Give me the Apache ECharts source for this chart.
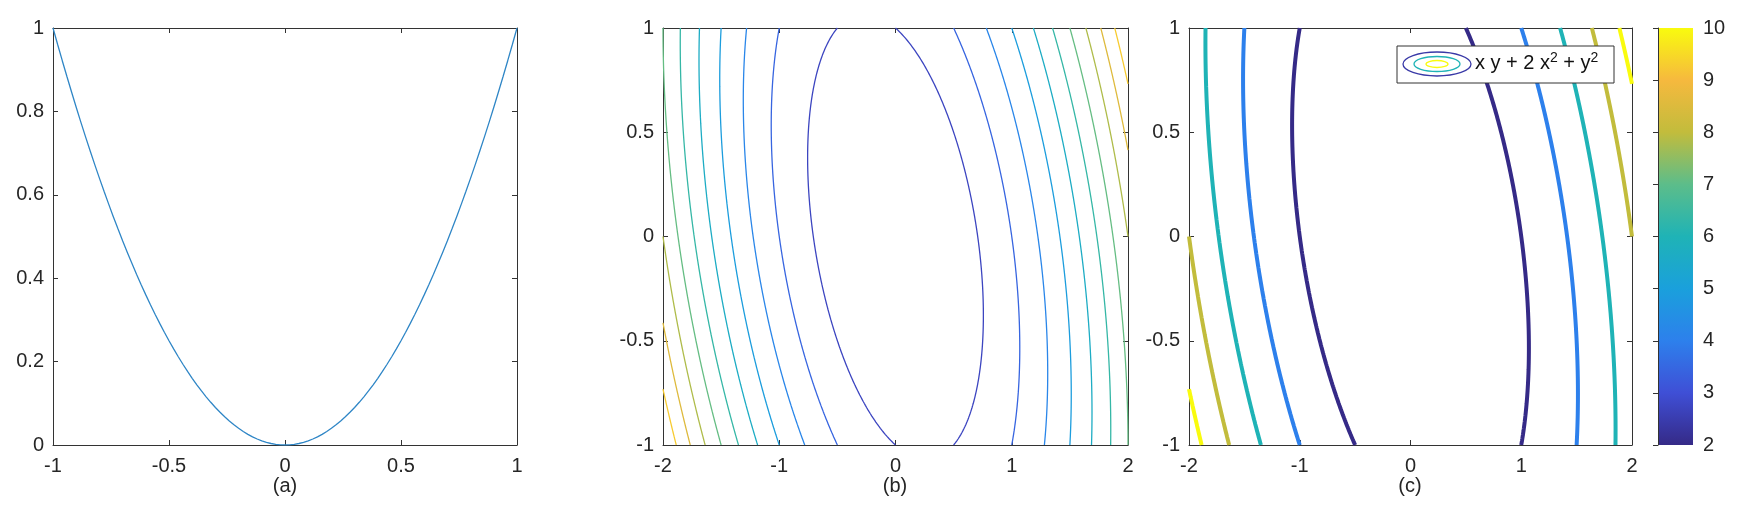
<!DOCTYPE html>
<html><head><meta charset="utf-8">
<script src="https://cdn.jsdelivr.net/npm/echarts@6/dist/echarts.min.js"></script>
<style>html,body{margin:0;background:#fff}#c{width:1745px;height:532px}</style>
</head><body><div id="c"></div>
<script>
// contour levels
const levelsB = [1, 2, 3, 4, 5, 6, 7, 8, 9, 10, 11]
const levelsC = [2, 4, 6, 8, 10]
const panelLabels = ['(a)', '(b)', '(c)']
// parula colormap stops
const parula = ['#352a87', '#3f4fd6', '#2d80ec', '#1aa0dc', '#1fb3b6', '#5cbd8a', '#c2bc3c', '#f6b93e', '#f9fb0e']

// sample grids
const xs = []
for (let i = 0; i <= 100; i++) xs.push(-1 + i * 0.02)
const ys = []
for (let i = 0; i <= 200; i++) ys.push(-1 + i * 0.01)

function hex(h) { return [1, 3, 5].map(i => parseInt(h.substr(i, 2), 16)) }
function cmap(t) {
  t = Math.max(0, Math.min(1, t))
  const p = t * (parula.length - 1), i = Math.min(Math.floor(p), parula.length - 2), f = p - i
  const a = hex(parula[i]), b = hex(parula[i + 1])
  return 'rgb(' + a.map((v, k) => Math.round(v + (b[k] - v) * f)).join(',') + ')'
}
// x y + 2 x^2 + y^2 = c  ->  x = (-y ± sqrt(8c - 7y^2)) / 4, cut at |x| = 2
function branch(c, sign) {
  const pts = ys.map(y => [(-y + sign * Math.sqrt(8 * c - 7 * y * y)) / 4, y])
  const out = []
  for (let i = 0; i < pts.length; i++) {
    const p = pts[i], inside = Math.abs(p[0]) <= 2
    if (i > 0) {
      const q = pts[i - 1], qIn = Math.abs(q[0]) <= 2
      if (inside !== qIn) {
        const xb = Math.abs(p[0]) > 2 ? Math.sign(p[0]) * 2 : Math.sign(q[0]) * 2
        const t = (xb - q[0]) / (p[0] - q[0])
        out.push([xb, q[1] + t * (p[1] - q[1])])
      }
    }
    if (inside) out.push(p)
  }
  return out
}

const font = 'Liberation Sans'
const frame = '#333'
function axisPair(min, max, interval, gridIndex, isX) {
  const base = {
    type: 'value', min, max, interval, gridIndex,
    axisLine: { show: true, onZero: false, lineStyle: { color: frame } },
    axisTick: { show: true, inside: true, length: 5, lineStyle: { color: frame } },
    splitLine: { show: false }
  }
  return [
    Object.assign({}, base, { position: isX ? 'bottom' : 'left',
      axisLabel: { color: '#262626', fontSize: 20, fontFamily: font, margin: isX ? 11 : 9 } }),
    Object.assign({}, base, { position: isX ? 'top' : 'right', axisLabel: { show: false } })
  ]
}

const grids = [
  { left: 53, top: 28, width: 464, height: 417 },
  { left: 663, top: 28, width: 465, height: 417 },
  { left: 1189, top: 28, width: 443, height: 417 },
  { left: 1658, top: 28, width: 35, height: 417 }
]
const xAxis = [
  ...axisPair(-1, 1, 0.5, 0, true),
  ...axisPair(-2, 2, 1, 1, true),
  ...axisPair(-2, 2, 1, 2, true),
  { type: 'value', gridIndex: 3, min: 0, max: 1, show: false }
]
const yAxis = [
  ...axisPair(0, 1, 0.2, 0, false),
  ...axisPair(-1, 1, 0.5, 1, false),
  ...axisPair(-1, 1, 0.5, 2, false),
  { type: 'value', gridIndex: 3, min: 2, max: 10, interval: 1, position: 'right',
    axisLine: { show: true, lineStyle: { color: frame } },
    axisTick: { show: true, inside: true, length: 5, lineStyle: { color: frame } },
    axisLabel: { color: '#262626', fontSize: 20, fontFamily: font, margin: 10 },
    splitLine: { show: false } }
]

const series = []
series.push({ type: 'line', xAxisIndex: 0, yAxisIndex: 0, showSymbol: false,
  data: xs.map(x => [x, x * x]), lineStyle: { color: '#2f86c6', width: 1.3 } })
levelsB.forEach(c => {
  [-1, 1].forEach(s => series.push({ type: 'line', xAxisIndex: 2, yAxisIndex: 2, showSymbol: false,
    data: branch(c, s), lineStyle: { color: cmap(c / 11), width: 1.3 } }))
})
levelsC.forEach(c => {
  [-1, 1].forEach(s => series.push({ type: 'line', xAxisIndex: 4, yAxisIndex: 4, showSymbol: false,
    data: branch(c, s), lineStyle: { color: cmap((c - 2) / 8), width: 4, cap: 'butt' } }))
})

const graphic = [
  ...panelLabels.map((t, i) => ({ type: 'text', x: [285, 895, 1410][i], y: 476,
    style: { text: t, fontSize: 20, fontFamily: font, fill: '#262626', textAlign: 'center' } })),
  { type: 'rect', shape: { x: 1658, y: 28, width: 35, height: 417 }, z: -1,
    style: { fill: new echarts.graphic.LinearGradient(0, 1, 0, 0,
      parula.map((c, i) => ({ offset: i / (parula.length - 1), color: c }))) } },
  { type: 'rect', shape: { x: 1397, y: 46, width: 217, height: 37 }, z: 10,
    style: { fill: '#fff', stroke: '#333', lineWidth: 1 } },
  { type: 'ellipse', shape: { cx: 1437, cy: 64, rx: 34, ry: 12 }, z: 11, style: { fill: 'none', stroke: cmap(0.05), lineWidth: 1.3 } },
  { type: 'ellipse', shape: { cx: 1437, cy: 64, rx: 23, ry: 7.5 }, z: 11, style: { fill: 'none', stroke: cmap(0.5), lineWidth: 1.3 } },
  { type: 'ellipse', shape: { cx: 1437, cy: 64, rx: 11, ry: 3.5 }, z: 11, style: { fill: 'none', stroke: cmap(1), lineWidth: 1.3 } },
  { type: 'text', x: 1475, y: 51, z: 11, style: {
    text: 'x y + 2 x{s|2} + y{s|2}', fontSize: 20, fontFamily: font, fill: '#111',
    rich: { s: { fontSize: 14, fontFamily: font, verticalAlign: 'top', padding: [0, 0, 10, 0] } } } }
]

const chart = echarts.init(document.getElementById('c'))
chart.setOption({ animation: false, grid: grids, xAxis, yAxis, series, graphic })
</script></body></html>
